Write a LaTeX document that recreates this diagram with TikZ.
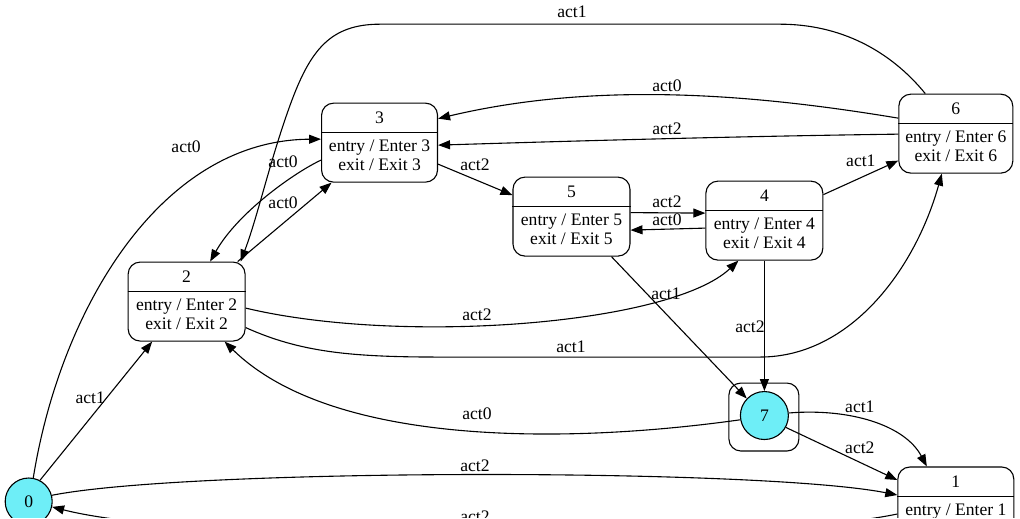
\documentclass[tikz,border=0pt]{standalone}
\usepackage{fontspec}
\setmainfont{Liberation Serif}
\usetikzlibrary{arrows.meta}

\definecolor{startcyan}{RGB}{110,238,247}
\newcommand{\diagramfont}{\fontsize{17.6pt}{19pt}\selectfont}

\tikzset{
	statebox/.style={draw, line width=1.1pt, rounded corners=12pt, minimum height=79pt, inner sep=0pt},
	divider/.style={line width=1.1pt},
	statetext/.style={font=\diagramfont, align=center, inner sep=0pt},
	circlestate/.style={draw, circle, line width=1.1pt, fill=startcyan, font=\diagramfont, inner sep=0pt},
	trans/.style={draw, line width=1.1pt, -{Triangle[length=12pt,width=9pt]}},
	edgelabel/.style={font=\diagramfont, inner sep=0pt}
}

\begin{document}
\begin{tikzpicture}[x=1pt,y=-1pt]
	
	%Background
	\draw[draw=white, fill=white] (0,0) rectangle (1020,518);
	\useasboundingbox (0,0) rectangle (1020,518);
	\clip (0,0) rectangle (1020,518);
	
	%States
	%3
	\node[statebox, minimum width=116pt] (s3) at (379.5,142.5) {};
	\draw[divider] ([yshift=-30pt]s3.north west) -- ([yshift=-30pt]s3.north east);
	\node[statetext] (s3title) at ([yshift=-15.5pt]s3.north) {3};
	\node[statetext] (s3body) at ([yshift=-53pt]s3.north) {entry / Enter 3\\exit / Exit 3};
	
	%2
	\node[statebox, minimum width=117pt] (s2) at (186.5,301.5) {};
	\draw[divider] ([yshift=-30pt]s2.north west) -- ([yshift=-30pt]s2.north east);
	\node[statetext] (s2title) at ([yshift=-15.5pt]s2.north) {2};
	\node[statetext] (s2body) at ([yshift=-53pt]s2.north) {entry / Enter 2\\exit / Exit 2};
	
	%5
	\node[statebox, minimum width=117pt] (s5) at (571.5,216.5) {};
	\draw[divider] ([yshift=-30pt]s5.north west) -- ([yshift=-30pt]s5.north east);
	\node[statetext] (s5title) at ([yshift=-15.5pt]s5.north) {5};
	\node[statetext] (s5body) at ([yshift=-53pt]s5.north) {entry / Enter 5\\exit / Exit 5};
	
	%4
	\node[statebox, minimum width=117pt] (s4) at (764.5,220.5) {};
	\draw[divider] ([yshift=-30pt]s4.north west) -- ([yshift=-30pt]s4.north east);
	\node[statetext] (s4title) at ([yshift=-15.5pt]s4.north) {4};
	\node[statetext] (s4body) at ([yshift=-53pt]s4.north) {entry / Enter 4\\exit / Exit 4};
	
	%6
	\node[statebox, minimum width=114pt] (s6) at (956,133.5) {};
	\draw[divider] ([yshift=-30pt]s6.north west) -- ([yshift=-30pt]s6.north east);
	\node[statetext] (s6title) at ([yshift=-15.5pt]s6.north) {6};
	\node[statetext] (s6body) at ([yshift=-53pt]s6.north) {entry / Enter 6\\exit / Exit 6};
	
	%1
	\node[statebox, minimum width=116pt] (s1) at (956,506.5) {};
	\draw[divider] ([yshift=-30pt]s1.north west) -- ([yshift=-30pt]s1.north east);
	\node[statetext] (s1title) at ([yshift=-15.5pt]s1.north) {1};
	\node[statetext] (s1body) at ([yshift=-53pt]s1.north) {entry / Enter 1\\exit / Exit 1};
	
	%0
	\node[circlestate, minimum size=47pt] (s0) at (28.5,501.5) {0};
	
	%7
	\node[statebox, minimum width=70pt, minimum height=68pt] (s7frame) at (764,417) {};
	\node[circlestate, minimum size=48pt] (s7) at (764.5,415.5) {7};
	
	%Transitions
	%0 -> 3, 2, 1
	\draw[trans] (s0.79) .. controls (60,310) and (160,140) .. ([yshift=3.5pt]s3.west);
	\node[edgelabel] (l03) at (186,147) {act0};
	\draw[trans] (s0.62) -- ([xshift=-34.5pt]s2.south);
	\node[edgelabel] (l02) at (90,398) {act1};
	\draw[trans] (s0.15) .. controls (190,468) and (760,468) .. ([yshift=11.5pt]s1.west);
	\node[edgelabel] (l01) at (475,466) {act2};
	
	%1 -> 0
	\draw[trans] ([yshift=-7.5pt]s1.west) .. controls (750,545) and (200,545) .. (s0.347);
	\node[edgelabel] (l10) at (475,517) {act2};
	
	%3 <-> 2
	\draw[trans] ([yshift=-17.5pt]s3.west) .. controls (295,172) and (238,212) .. ([xshift=23.5pt]s2.north);
	\node[edgelabel] (l32) at (283,162) {act0};
	\draw[trans] ([xshift=-8pt]s2.north east) -- ([xshift=10.5pt]s3.south west);
	\node[edgelabel] (l23) at (283,203) {act0};
	
	%6 -> 2
	\draw[trans] ([xshift=27pt]s6.north west) .. controls (890,50) and (840,24) .. (780,24) -- (380,24)
		.. controls (330,24) and (310,50) .. (290,105) .. controls (270,160) and (258,215) .. ([xshift=-5pt]s2.north east);
	\node[edgelabel] (l62) at (572,12) {act1};
	
	%3 -> 5
	\draw[trans] ([yshift=-21.5pt]s3.east) -- ([yshift=21.5pt]s5.west);
	\node[edgelabel] (l35) at (475,165) {act2};
	
	%5 <-> 4
	\draw[trans] ([yshift=4pt]s5.east) -- ([yshift=7.5pt]s4.west);
	\node[edgelabel] (l54) at (667,202) {act2};
	\draw[trans] ([yshift=-7.5pt]s4.west) -- ([yshift=-13.5pt]s5.east);
	\node[edgelabel] (l45) at (667,220) {act0};
	
	%4 -> 6
	\draw[trans] ([yshift=26pt]s4.east) -- ([yshift=-27pt]s6.west);
	\node[edgelabel] (l46) at (861,161) {act1};
	
	%6 -> 3
	\draw[trans] ([yshift=15.5pt]s6.west) .. controls (760,95) and (600,80) .. ([yshift=24pt]s3.east);
	\node[edgelabel] (l63a) at (667,86) {act0};
	\draw[trans] ([yshift=-0.5pt]s6.west) .. controls (750,136) and (600,140) .. ([yshift=-2.5pt]s3.east);
	\node[edgelabel] (l63b) at (667,129) {act2};
	
	%2 -> 4, 6
	\draw[trans] ([yshift=-6.5pt]s2.east) .. controls (400,345) and (670,325) .. ([xshift=-26pt]s4.south);
	\node[edgelabel] (l24) at (477,315) {act2};
	\draw[trans] ([yshift=-26pt]s2.east) .. controls (300,352) and (350,357) .. (440,357) -- (760,357)
		.. controls (850,357) and (915,270) .. ([xshift=-14pt]s6.south);
	\node[edgelabel] (l26) at (571,347) {act1};
	
	%5, 4 -> 7
	\draw[trans] ([xshift=40pt]s5.south) -- (s7.136);
	\node[edgelabel] (l57) at (666,294) {act1};
	\draw[trans] (s4.south) -- (s7.north);
	\node[edgelabel] (l47) at (750,327) {act2};
	
	%7 -> 2, 1
	\draw[trans] (s7.190) .. controls (560,445) and (330,445) .. ([xshift=38pt]s2.south);
	\node[edgelabel] (l72) at (477,414) {act0};
	\draw[trans] (s7.6) .. controls (850,408) and (905,425) .. ([xshift=-29pt]s1.north);
	\node[edgelabel] (l71a) at (860,407) {act1};
	\draw[trans] (s7.331) -- ([yshift=26.5pt]s1.west);
	\node[edgelabel] (l71b) at (860,448) {act2};
	
\end{tikzpicture}
\end{document}
